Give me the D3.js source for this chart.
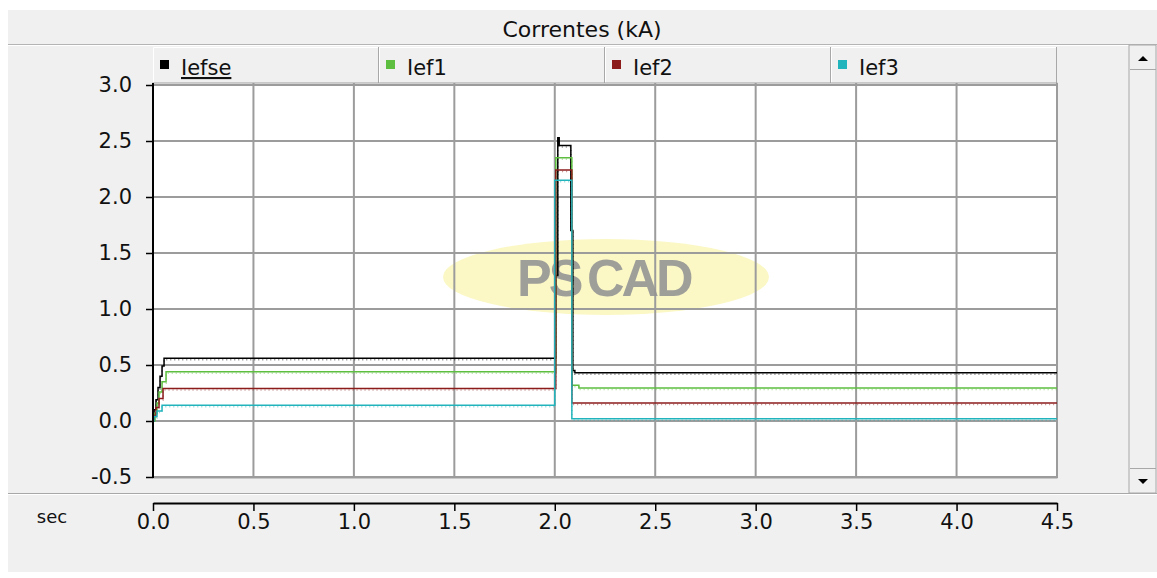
<!DOCTYPE html>
<html>
<head>
<meta charset="utf-8">
<script src="https://cdn.jsdelivr.net/npm/d3@7"></script>
<style>
  body { margin: 0; background: #fff; }
  svg { display: block; }
  text { font-family: "DejaVu Sans", Verdana, sans-serif; }
</style>
</head>
<body>
<div id="chart"></div>
<script>
// series names / colours, tick values
var seriesNames = ["Iefse", "Ief1", "Ief2", "Ief3"];
var seriesColors = ["#000000", "#5dbe40", "#8c1c1c", "#22b4bc"];
var xTicks = [0, 0.5, 1.0, 1.5, 2.0, 2.5, 3.0, 3.5, 4.0, 4.5];
var yTicks = [-0.5, 0, 0.5, 1.0, 1.5, 2.0, 2.5, 3.0];

// [time (s), current (kA)] - step values
var iefse = [[0, 0], [0.005, 0.1], [0.015, 0.19], [0.025, 0.3], [0.035, 0.4], [0.045, 0.49], [0.055, 0.56],
  [2.005, 1.3], [2.015, 2.53], [2.022, 2.46], [2.08, 1.7], [2.09, 0.45], [2.1, 0.43], [4.5, 0.43]];
var ief1 = [[0, 0], [0.01, 0.07], [0.02, 0.16], [0.03, 0.26], [0.045, 0.35], [0.065, 0.44],
  [2.005, 2.35], [2.085, 0.32], [2.12, 0.295], [4.5, 0.295]];
var ief2 = [[0, 0], [0.005, 0.05], [0.015, 0.12], [0.03, 0.2], [0.05, 0.29],
  [2.005, 2.24], [2.085, 0.16], [4.5, 0.16]];
var ief3 = [[0, 0], [0.005, 0.04], [0.02, 0.09], [0.045, 0.14],
  [2.0, 2.15], [2.085, 0.02], [4.5, 0.02]];
var allSeries = [iefse, ief1, ief2, ief3];

var W = 1157, H = 578;
var plot = {left: 153, right: 1057, top: 83, bottom: 478};

var x = d3.scaleLinear().domain([0, 4.5]).range([153, 1057]);
var y = d3.scaleLinear().domain([-0.5, 3.0]).range([477, 85]);
var fmt = function(d) { return d3.format(".1f")(d).replace("\u2212", "-"); };

var svg = d3.select("#chart")
  .append("svg")
    .attr("width", W)
    .attr("height", H);

// window panel
svg.append("rect").attr("width", W).attr("height", H).attr("fill", "#fff");
svg.append("rect")
  .attr("x", 8).attr("y", 10)
  .attr("width", W - 8).attr("height", H - 16)
  .attr("fill", "#f0f0f0");

// title bar
svg.append("text")
  .attr("x", 582).attr("y", 37)
  .attr("text-anchor", "middle")
  .attr("font-size", 22)
  .attr("fill", "#111")
  .text("Correntes (kA)");
svg.append("line")
  .attr("x1", 8).attr("x2", W).attr("y1", 44.5).attr("y2", 44.5)
  .attr("stroke", "#b4b4b4");
svg.append("line")
  .attr("x1", 8).attr("x2", W).attr("y1", 45.5).attr("y2", 45.5)
  .attr("stroke", "#fff");

// legend cells
var cellW = (plot.right - plot.left) / 4;
var legend = svg.selectAll(".leg")
  .data(seriesNames)
  .enter().append("g")
    .attr("class", "leg")
    .attr("transform", function(d, i) { return "translate(" + (plot.left + i * cellW) + ",47)"; });
legend.append("rect")
  .attr("width", cellW).attr("height", 36)
  .attr("fill", "#f0f0f0");
legend.append("path")
  .attr("d", "M0.5,36V0.5H" + cellW)
  .attr("fill", "none").attr("stroke", "#fff");
legend.append("path")
  .attr("d", "M" + (cellW - 0.5) + ",0V36")
  .attr("fill", "none").attr("stroke", "#a8a8a8");
legend.append("rect")
  .attr("x", 7).attr("y", 13)
  .attr("width", 9).attr("height", 9)
  .attr("fill", function(d, i) { return seriesColors[i]; });
legend.append("text")
  .attr("x", 28).attr("y", 28)
  .attr("font-size", 21)
  .attr("fill", "#111")
  .attr("text-decoration", function(d, i) { return i === 0 ? "underline" : null; })
  .text(function(d) { return d; });

// plot area
svg.append("rect")
  .attr("x", plot.left).attr("y", plot.top)
  .attr("width", plot.right - plot.left).attr("height", plot.bottom - plot.top)
  .attr("fill", "#fff")
  .attr("stroke", "#a0a0a0");

// PSCAD watermark
svg.append("ellipse")
  .attr("cx", 606).attr("cy", 277)
  .attr("rx", 163).attr("ry", 38)
  .attr("fill", "#fbf8c6");

// grid
svg.append("g")
  .selectAll("line")
  .data(xTicks.slice(1))
  .enter().append("line")
    .attr("x1", function(d) { return x(d); }).attr("x2", function(d) { return x(d); })
    .attr("y1", plot.top).attr("y2", plot.bottom)
    .attr("stroke", "#9c9c9c").attr("stroke-width", 2);
svg.append("g")
  .selectAll("line")
  .data(yTicks)
  .enter().append("line")
    .attr("x1", plot.left).attr("x2", plot.right)
    .attr("y1", function(d) { return y(d); }).attr("y2", function(d) { return y(d); })
    .attr("stroke", "#9c9c9c").attr("stroke-width", 2);

svg.append("text")
  .attr("x", 517).attr("y", 296)
  .attr("font-weight", "bold")
  .attr("font-size", 52)
  .attr("letter-spacing", -3)
  .attr("fill", "#959595")
  .attr("fill-opacity", 0.9)
  .style("font-family", "'Liberation Sans', Arial, sans-serif")
  .text("PS");
svg.append("text")
  .attr("x", 587).attr("y", 296)
  .attr("font-weight", "bold")
  .attr("font-size", 52)
  .attr("letter-spacing", -3)
  .attr("fill", "#959595")
  .attr("fill-opacity", 0.9)
  .style("font-family", "'Liberation Sans', Arial, sans-serif")
  .text("CAD");

// series
var line = d3.line()
  .x(function(d) { return x(d[0]); })
  .y(function(d) { return y(d[1]); })
  .curve(d3.curveStepAfter);
var lines = svg.append("g");
// faint sampled ripple just under each trace
lines.selectAll("path.ripple")
  .data(allSeries)
  .enter().append("path")
    .attr("class", "ripple")
    .attr("d", line)
    .attr("transform", "translate(0,1.5)")
    .attr("fill", "none")
    .attr("stroke", function(d, i) { return seriesColors[i]; })
    .attr("stroke-opacity", 0.5)
    .attr("stroke-dasharray", "1,3")
    .attr("stroke-width", 1.5);
lines.selectAll("path.trace")
  .data(allSeries)
  .enter().append("path")
    .attr("class", "trace")
    .attr("d", line)
    .attr("fill", "none")
    .attr("stroke", function(d, i) { return seriesColors[i]; })
    .attr("stroke-width", 1.5);

// y axis
var yAxis = svg.append("g")
  .attr("transform", "translate(" + plot.left + ",0)")
  .call(d3.axisLeft(y).tickValues(yTicks).tickFormat(fmt).tickSize(7).tickSizeOuter(0));
yAxis.select(".domain").remove();
yAxis.selectAll(".tick line").attr("stroke", "#000").attr("stroke-width", 1.5);
yAxis.selectAll(".tick text")
  .attr("x", -21)
  .attr("font-size", 21)
  .attr("fill", "#111")
  .style("font-family", "'DejaVu Sans', sans-serif");
svg.append("line")
  .attr("x1", plot.left).attr("x2", plot.left)
  .attr("y1", plot.top).attr("y2", plot.bottom)
  .attr("stroke", "#000").attr("stroke-width", 2);

// bottom panel separator
svg.append("line")
  .attr("x1", 8).attr("x2", W).attr("y1", 493.5).attr("y2", 493.5)
  .attr("stroke", "#a8a8a8");
svg.append("line")
  .attr("x1", 8).attr("x2", W).attr("y1", 494.5).attr("y2", 494.5)
  .attr("stroke", "#fff");

// x axis
var xAxis = svg.append("g")
  .attr("transform", "translate(0,503)")
  .call(d3.axisBottom(x).tickValues(xTicks).tickFormat(fmt).tickSize(8).tickSizeOuter(0));
xAxis.select(".domain").attr("stroke", "#000").attr("stroke-width", 2);
xAxis.selectAll(".tick line").attr("stroke", "#000").attr("stroke-width", 1.5);
xAxis.selectAll(".tick text")
  .attr("y", 11)
  .attr("font-size", 21)
  .attr("fill", "#111")
  .style("font-family", "'DejaVu Sans', sans-serif");
svg.append("text")
  .attr("x", 52).attr("y", 523)
  .attr("text-anchor", "middle")
  .attr("font-size", 18)
  .attr("fill", "#111")
  .text("sec");

// scrollbar
var sb = svg.append("g").attr("transform", "translate(1129,45)");
sb.append("rect")
  .attr("width", 27).attr("height", 448)
  .attr("fill", "#f0f0f0").attr("stroke", "#a8a8a8");
sb.append("path").attr("d", "M1,24.5H27").attr("stroke", "#a8a8a8");
sb.append("path").attr("d", "M1,423.5H27").attr("stroke", "#a8a8a8");
sb.append("path").attr("d", "M9,16L14,11L19,16Z").attr("fill", "#000");
sb.append("path").attr("d", "M9,434L14,439L19,434Z").attr("fill", "#000");
</script>
</body>
</html>
